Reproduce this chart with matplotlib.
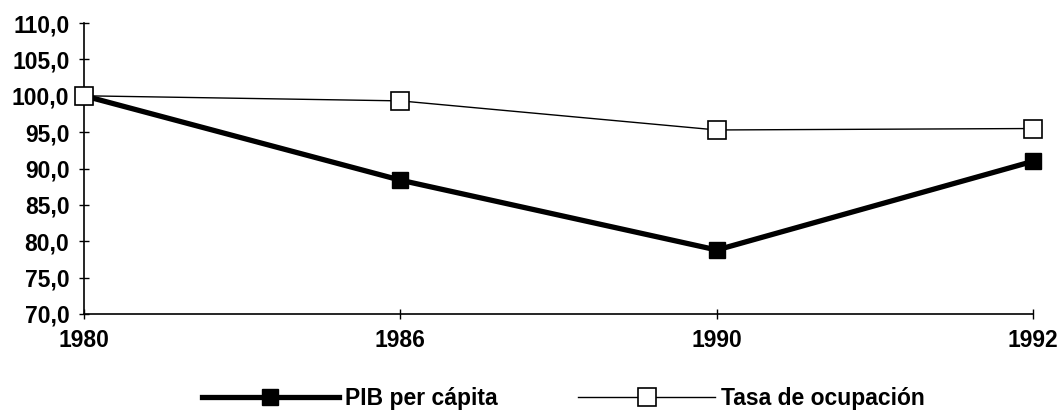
import matplotlib.pyplot as plt
from matplotlib.ticker import FuncFormatter

years = ["1980", "1986", "1990", "1992"]
pib = [100.0, 88.4, 78.8, 91.0]
tasa = [100.0, 99.3, 95.3, 95.5]

plt.rcParams['font.family'] = ['Liberation Sans', 'DejaVu Sans']
plt.rcParams['font.weight'] = 'bold'

fig = plt.figure(figsize=(10.63, 4.19), dpi=100)
ax = fig.add_axes([0.079, 0.2506, 0.893, 0.6944])

x = range(len(years))
ax.plot(x, pib, color='black', lw=3.8, marker='s', markersize=12,
        markerfacecolor='black', label='PIB per cápita', zorder=3)
ax.plot(x, tasa, color='black', lw=1, marker='s', markersize=13,
        markerfacecolor='white', markeredgewidth=1.2, label='Tasa de ocupación', zorder=4)

ax.set_xlim(0, len(years) - 1)
ax.set_ylim(70, 110)
ax.set_yticks(range(70, 111, 5))
ax.yaxis.set_major_formatter(FuncFormatter(lambda v, p: f"{v:.1f}".replace('.', ',')))
ax.set_xticks(list(x))
ax.set_xticklabels(years)

for s in ['top', 'right']:
    ax.spines[s].set_visible(False)
for s in ['left', 'bottom']:
    ax.spines[s].set_linewidth(1.2)

ax.tick_params(axis='both', direction='inout', length=7, width=1, labelsize=16.5)
ax.tick_params(axis='y', pad=7)
ax.tick_params(axis='x', pad=7)
for lbl in ax.get_xticklabels() + ax.get_yticklabels():
    lbl.set_fontweight('bold')

for line in ax.lines:
    line.set_clip_on(False)

fig.legend(loc='center', bbox_to_anchor=(0.53, 0.05), ncol=2, frameon=False,
           handlelength=6.0, columnspacing=3.5, handletextpad=0.26,
           prop={'weight': 'bold', 'size': 16.5})

fig.savefig('out.png', dpi=100)
